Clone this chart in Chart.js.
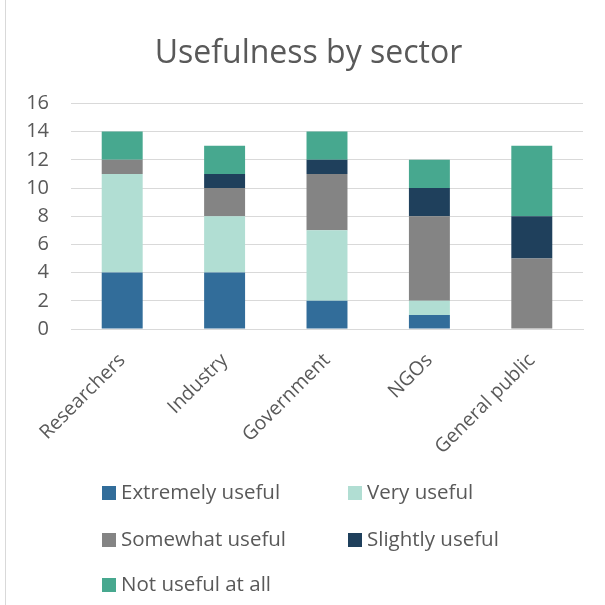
<!DOCTYPE html>
<html>
<head>
<meta charset="utf-8">
<script src="https://cdn.jsdelivr.net/npm/chart.js@4/dist/chart.umd.min.js"></script>
<style>
  html, body { margin: 0; padding: 0; background: #ffffff; }
  #wrap { position: relative; width: 605px; height: 605px; overflow: hidden; }
  #frame { position: absolute; left: 5px; top: 0; width: 1px; height: 605px; background: #d9d9d9; }
  canvas { position: absolute; left: 0; top: 0; }
  #legend { position: absolute; left: 102px; top: 475px; width: 480px;
            font-family: "Open Sans", sans-serif; font-size: 20.5px; color: #595959; }
  .item { position: absolute; white-space: nowrap; line-height: 24px; }
  .box { display: inline-block; width: 14px; height: 14px; margin-right: 5px; vertical-align: -1px; }
</style>
</head>
<body>
<div id="wrap">
  <div id="frame"></div>
  <canvas id="c" width="605" height="605"></canvas>
  <div id="legend"></div>
</div>
<script>
const categories = ["Researchers", "Industry", "Government", "NGOs", "General public"];
const extremelyUseful = [4, 4, 2, 1, 0];
const veryUseful      = [7, 4, 5, 1, 0];
const somewhatUseful  = [1, 2, 4, 6, 5];
const slightlyUseful  = [0, 1, 1, 2, 3];
const notUsefulAtAll  = [2, 2, 2, 2, 5];
const seriesNames = ["Extremely useful", "Very useful", "Somewhat useful", "Slightly useful", "Not useful at all"];
const seriesColors = ["#326D9A", "#B1DED3", "#848484", "#1F405C", "#47A88F"];
const yMax = 16, yStep = 2;

const FONT = '"Open Sans", sans-serif';
const TXT = '#595959';
const seriesValues = [extremelyUseful, veryUseful, somewhatUseful, slightlyUseful, notUsefulAtAll];

const chart = new Chart(document.getElementById('c'), {
  type: 'bar',
  data: {
    labels: categories,
    datasets: seriesValues.map((vals, i) => ({
      label: seriesNames[i],
      data: vals,
      backgroundColor: seriesColors[i],
      borderWidth: 0,
      barPercentage: 0.4,
      categoryPercentage: 1.0,
      yAxisID: 'y'
    }))
  },
  options: {
    responsive: false,
    devicePixelRatio: 1,
    animation: false,
    layout: { padding: { left: 12, right: 0, top: 0, bottom: 0 } },
    plugins: {
      legend: { display: false },
      tooltip: { enabled: false },
      title: {
        display: true,
        text: 'Usefulness by sector',
        color: TXT,
        font: { family: FONT, size: 32, weight: 'normal' },
        padding: { top: 35, bottom: 30 }
      }
    },
    scales: {
      x: {
        stacked: true,
        grid: { display: false },
        border: { display: true, color: '#d9d9d9', width: 1 },
        ticks: {
          color: TXT,
          font: { family: FONT, size: 19.5 },
          minRotation: 45, maxRotation: 45,
          padding: 12
        },
        afterFit(scale) { scale.height = 276; }
      },
      y: {
        stacked: true,
        position: 'left',
        min: 0, max: yMax,
        grid: { color: '#d9d9d9', lineWidth: 1, drawTicks: false },
        border: { display: false },
        ticks: {
          stepSize: yStep,
          color: TXT,
          font: { family: FONT, size: 20 },
          padding: 22
        },
        afterFit(scale) { scale.width = 59; }
      },
      spacer: {
        type: 'linear',
        position: 'right',
        display: true,
        min: 0, max: yMax,
        grid: { display: false, drawTicks: false },
        border: { display: false },
        ticks: { display: false },
        afterFit(scale) { scale.width = 22; }
      }
    }
  }
});

// Legend in two columns, built from the chart's datasets
const legend = document.getElementById('legend');
const colX = [0, 246];
const rowY = [4, 51, 96];
chart.data.datasets.forEach((ds, i) => {
  const el = document.createElement('div');
  el.className = 'item';
  el.style.left = colX[i % 2] + 'px';
  el.style.top = rowY[Math.floor(i / 2)] + 'px';
  const box = document.createElement('span');
  box.className = 'box';
  box.style.background = ds.backgroundColor;
  el.appendChild(box);
  el.appendChild(document.createTextNode(ds.label));
  legend.appendChild(el);
});
</script>
</body>
</html>
